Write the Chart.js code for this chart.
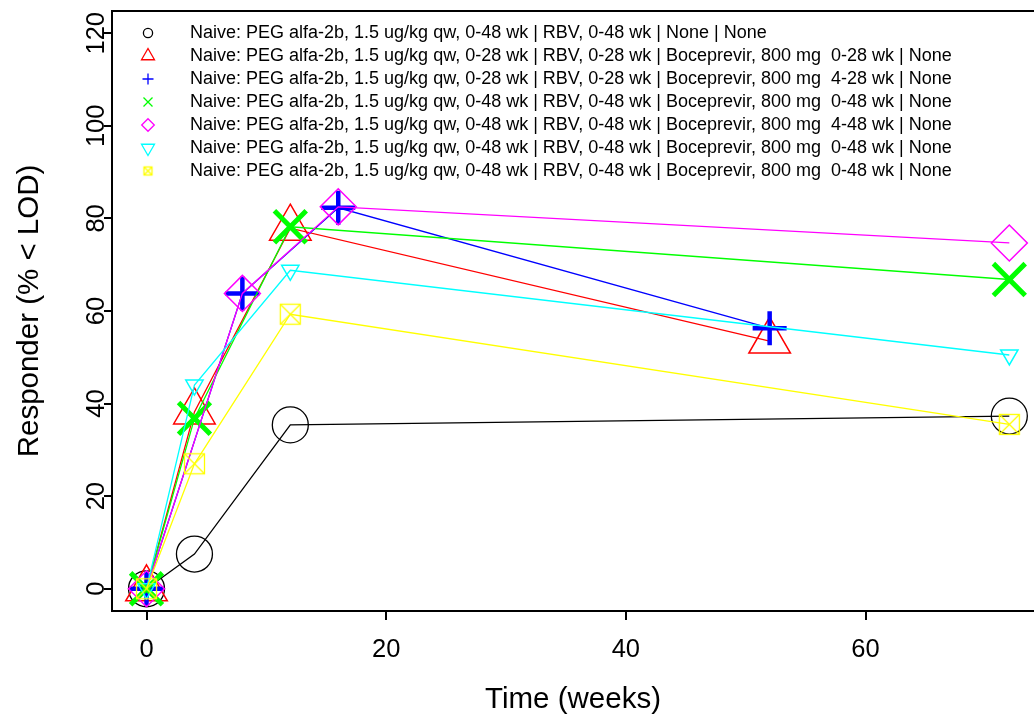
<!DOCTYPE html>
<html>
<head>
<meta charset="utf-8">
<script src="https://cdn.jsdelivr.net/npm/chart.js@4.4.1/dist/chart.umd.min.js"></script>
<style>
  html, body { margin: 0; padding: 0; background: #fff; overflow: hidden; }
</style>
</head>
<body>
<canvas id="chart" width="1034" height="717"></canvas>
<script>
// Arm labels (legend order)
const armLabels = [
  "Naive: PEG alfa-2b, 1.5 ug/kg qw, 0-48 wk | RBV, 0-48 wk | None | None",
  "Naive: PEG alfa-2b, 1.5 ug/kg qw, 0-28 wk | RBV, 0-28 wk | Boceprevir, 800 mg  0-28 wk | None",
  "Naive: PEG alfa-2b, 1.5 ug/kg qw, 0-28 wk | RBV, 0-28 wk | Boceprevir, 800 mg  4-28 wk | None",
  "Naive: PEG alfa-2b, 1.5 ug/kg qw, 0-48 wk | RBV, 0-48 wk | Boceprevir, 800 mg  0-48 wk | None",
  "Naive: PEG alfa-2b, 1.5 ug/kg qw, 0-48 wk | RBV, 0-48 wk | Boceprevir, 800 mg  4-48 wk | None",
  "Naive: PEG alfa-2b, 1.5 ug/kg qw, 0-48 wk | RBV, 0-48 wk | Boceprevir, 800 mg  0-48 wk | None",
  "Naive: PEG alfa-2b, 1.5 ug/kg qw, 0-48 wk | RBV, 0-48 wk | Boceprevir, 800 mg  0-48 wk | None"
];

// Time (weeks) and responder % for each arm
const weeksPR = [0, 4, 12, 72];
const respPR = [0, 7.5, 35.4, 37.3];
const weeksB028 = [0, 4, 12, 52];
const respB028 = [0, 38.2, 77.9, 53.5];
const weeksB428 = [0, 8, 16, 52];
const respB428 = [0, 63.8, 82.3, 56.3];
const weeksB048 = [0, 4, 12, 72];
const respB048 = [0, 36.8, 78.2, 66.8];
const weeksB448 = [0, 8, 16, 72];
const respB448 = [0, 63.8, 82.5, 74.7];
const weeksB048b = [0, 4, 12, 72];
const respB048b = [0, 44, 68.8, 50.5];
const weeksB048c = [0, 4, 12, 72];
const respB048c = [0, 27, 59.3, 35.5];

const xTicks = [0, 20, 40, 60];
const yTicks = [0, 20, 40, 60, 80, 100, 120];

const FONT = "'Liberation Sans', Arial, Helvetica, sans-serif";

function toPoints(weeks, resp) {
  return weeks.map((w, i) => ({ x: w, y: resp[i] }));
}

// square with an X (R pch 7)
function boxCross(half, color, lw) {
  const size = Math.ceil(half * 2 + lw * 2 + 2);
  const c = document.createElement("canvas");
  c.width = size; c.height = size;
  const g = c.getContext("2d");
  const o = size / 2;
  g.strokeStyle = color; g.lineWidth = lw;
  g.strokeRect(o - half, o - half, half * 2, half * 2);
  g.beginPath();
  g.moveTo(o - half, o - half); g.lineTo(o + half, o + half);
  g.moveTo(o + half, o - half); g.lineTo(o - half, o + half);
  g.stroke();
  return c;
}

// small legend symbols
function legendIcon(kind, color) {
  if (kind === "box") return boxCross(4, color, 1.3);
  const c = document.createElement("canvas");
  c.width = 20; c.height = 20;
  const g = c.getContext("2d");
  const m = 10;
  g.strokeStyle = color; g.lineWidth = 1.3;
  g.beginPath();
  if (kind === "circle") {
    g.arc(m, m, 4.6, 0, Math.PI * 2);
  } else if (kind === "up" || kind === "down") {
    const r = 7.5, s = kind === "up" ? 1 : -1;
    g.moveTo(m, m - s * r);
    g.lineTo(m + r * 0.866, m + s * r / 2);
    g.lineTo(m - r * 0.866, m + s * r / 2);
    g.closePath();
  } else if (kind === "plus") {
    g.moveTo(m - 5.5, m); g.lineTo(m + 5.5, m);
    g.moveTo(m, m - 5.5); g.lineTo(m, m + 5.5);
  } else if (kind === "x") {
    g.moveTo(m - 4.5, m - 4.5); g.lineTo(m + 4.5, m + 4.5);
    g.moveTo(m + 4.5, m - 4.5); g.lineTo(m - 4.5, m + 4.5);
  } else if (kind === "diamond") {
    g.moveTo(m, m - 6.3); g.lineTo(m + 6.3, m);
    g.lineTo(m, m + 6.3); g.lineTo(m - 6.3, m);
    g.closePath();
  }
  g.stroke();
  return c;
}

const colors = ["#000000", "#FF0000", "#0000FF", "#00FF00", "#FF00FF", "#00FFFF", "#FFFF00"];
const iconKinds = ["circle", "up", "plus", "x", "diamond", "down", "box"];
const yellowMark = boxCross(10, "#FFFF00", 1.3);

const series = [
  { weeks: weeksPR, resp: respPR, style: "circle", radius: 18, bw: 1.3, rot: 0 },
  { weeks: weeksB028, resp: respB028, style: "triangle", radius: 24, bw: 1.5, rot: 0 },
  { weeks: weeksB428, resp: respB428, style: "cross", radius: 17, bw: 4.5, rot: 0 },
  { weeks: weeksB048, resp: respB048, style: "crossRot", radius: 22.5, bw: 5, rot: 0 },
  { weeks: weeksB448, resp: respB448, style: "rectRot", radius: 18, bw: 1.5, rot: 0 },
  { weeks: weeksB048b, resp: respB048b, style: "triangle", radius: 10, bw: 1.5, rot: 180 },
  { weeks: weeksB048c, resp: respB048c, style: yellowMark, radius: 11, bw: 1.3, rot: 0 }
];

const datasets = series.map((s, i) => ({
  label: armLabels[i],
  data: toPoints(s.weeks, s.resp),
  borderColor: colors[i],
  backgroundColor: "rgba(0,0,0,0)",
  borderWidth: 1.3,
  tension: 0,
  pointStyle: s.style,
  pointRadius: s.radius,
  pointBorderWidth: s.bw,
  pointBorderColor: colors[i],
  pointBackgroundColor: "rgba(0,0,0,0)",
  pointRotation: s.rot,
  order: series.length - i,
  clip: false
}));

// top frame edge (right edge falls outside the picture)
const frameTop = {
  id: "frameTop",
  beforeDatasetsDraw(chart) {
    const { ctx, chartArea: a } = chart;
    ctx.save();
    ctx.strokeStyle = "#000";
    ctx.lineWidth = 2;
    ctx.beginPath();
    ctx.moveTo(a.left - 1, a.top);
    ctx.lineTo(a.right + 2, a.top);
    ctx.stroke();
    ctx.restore();
  }
};

// nudge the in-plot legend
const legendNudge = {
  id: "legendNudge",
  afterLayout(chart) {
    chart.legend.left = chart.chartArea.left - 2;
    chart.legend.top = chart.chartArea.top + 8;
  }
};

new Chart(document.getElementById("chart").getContext("2d"), {
  type: "line",
  data: { datasets },
  options: {
    responsive: false,
    animation: false,
    events: [],
    layout: { autoPadding: false, padding: { left: 0, top: 11, right: 0, bottom: 0 } },
    scales: {
      x: {
        type: "linear",
        min: -2.88,
        max: 74.06,
        afterBuildTicks: (scale) => { scale.ticks = xTicks.map((v) => ({ value: v })); },
        afterFit: (scale) => { scale.height = 106; scale.paddingLeft = 0; scale.paddingRight = 0; },
        grid: { drawOnChartArea: false, drawTicks: true, tickLength: 9, color: "#000", lineWidth: 2 },
        border: { display: true, color: "#000", width: 2 },
        ticks: { color: "#000", font: { size: 25.5, family: FONT }, padding: 14.5, maxRotation: 0 },
        title: {
          display: true, text: "Time (weeks)", color: "#000",
          font: { size: 29.5, family: FONT, lineHeight: 1 },
          padding: { top: 0, bottom: 2 }
        }
      },
      y: {
        type: "linear",
        min: -4.8,
        max: 124.8,
        afterBuildTicks: (scale) => { scale.ticks = yTicks.map((v) => ({ value: v })); },
        afterFit: (scale) => { scale.width = 112; scale.paddingTop = 0; scale.paddingBottom = 0; },
        grid: { drawOnChartArea: false, drawTicks: true, tickLength: 8, color: "#000", lineWidth: 2 },
        border: { display: true, color: "#000", width: 2 },
        ticks: {
          color: "#000", font: { size: 25.5, family: FONT },
          minRotation: 90, maxRotation: 90, crossAlign: "center", padding: -14
        },
        title: {
          display: true, text: "Responder (% < LOD)", color: "#000",
          font: { size: 29.5, family: FONT, lineHeight: 1 },
          padding: { top: 15, bottom: 0 }
        }
      }
    },
    plugins: {
      tooltip: { enabled: false },
      legend: {
        position: "chartArea",
        align: "start",
        labels: {
          color: "#000",
          font: { size: 18, family: FONT },
          usePointStyle: true,
          pointStyleWidth: 66,
          padding: 5,
          generateLabels: (chart) => {
            const items = Chart.defaults.plugins.legend.labels.generateLabels(chart);
            items.sort((a, b) => a.datasetIndex - b.datasetIndex);
            items.forEach((item) => {
              item.pointStyle = legendIcon(iconKinds[item.datasetIndex], colors[item.datasetIndex]);
              item.rotation = 0;
            });
            return items;
          }
        }
      }
    }
  },
  plugins: [frameTop, legendNudge]
});
</script>
</body>
</html>
